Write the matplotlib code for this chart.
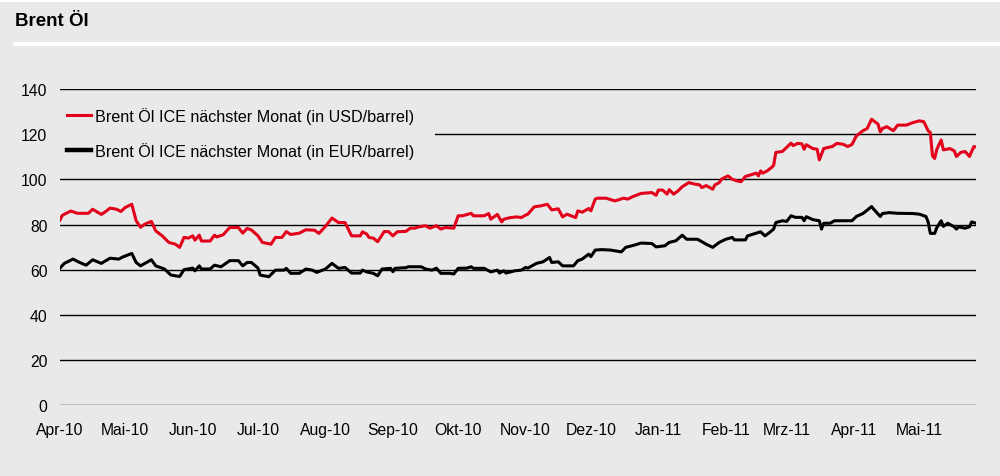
import numpy as np
import pandas as pd
import matplotlib.pyplot as plt
from matplotlib.patches import Rectangle
from matplotlib.lines import Line2D

plt.rcParams['font.family'] = ['Liberation Sans', 'DejaVu Sans']

start = pd.Timestamp('2010-04-01')

# Brent in USD/barrel: day offset from 1 Apr 2010, value
usd_days = [0, 1, 2, 5, 8, 13, 15, 19, 21, 23, 26, 28, 30, 33, 35, 37, 39, 42, 44, 47,
            50, 53, 55, 57, 59, 61, 62, 64, 65, 69, 71, 72, 75, 78, 82, 84, 86, 88, 91, 93,
            97, 99, 102, 104, 106, 110, 113, 117, 119, 122, 125, 128, 131, 134, 138, 139, 141, 142, 144, 146,
            149, 151, 153, 155, 159, 161, 163, 165, 168, 170, 173, 175, 177, 181, 183, 185, 189, 190, 195, 197,
            198, 201, 203, 204, 207, 210, 212, 214, 215, 218, 221, 224, 226, 229, 231, 233, 237, 238, 240, 243,
            244, 246, 247, 251, 255, 259, 261, 263, 267, 272, 274, 275, 277, 279, 280, 282, 284, 286, 289, 292,
            294, 295, 297, 300, 301, 303, 304, 307, 309, 311, 313, 315, 317, 320, 321, 322, 323, 325, 327, 328,
            329, 332, 336, 337, 339, 341, 342, 343, 346, 348, 349, 351, 353, 355, 357, 360, 362, 364, 366, 369,
            371, 373, 376, 377, 378, 380, 383, 385, 389, 392, 395, 397, 399, 400, 401, 402, 403, 405, 406, 409,
            411, 412, 414, 416, 418, 420, 421]
usd = [82, 84, 84.6, 86, 85, 85, 86.8, 84.5, 85.8, 87.3, 86.8, 85.8, 87.6, 89, 81.7, 78.8, 80.2, 81.4, 77.2, 75,
       72.1, 71.3, 69.9, 74.3, 74, 75, 73.1, 75.3, 72.7, 72.7, 75.3, 74.5, 75.5, 78.7, 78.7, 76.2, 78.3, 77.6, 75, 72.1,
       71.3, 74.3, 74.3, 76.9, 75.6, 76.2, 77.7, 77.5, 76.1, 79.2, 82.9, 80.9, 80.9, 75, 75, 76.8, 75.8, 74.3, 74, 72.4,
       76.9, 76.9, 75, 76.8, 77, 78.4, 78.4, 79, 79.5, 78.4, 79.5, 78, 78.7, 78.4, 83.9, 83.9, 85, 83.9, 83.9, 84.9,
       82.4, 84.5, 81.2, 82.4, 83.1, 83.4, 83.1, 84.2, 84.6, 87.9, 88.3, 89, 86.5, 87, 83.4, 84.6, 83.1, 86.1, 85.5, 87.1,
       86.1, 91.3, 91.7, 91.7, 90.5, 91.7, 91.3, 92.3, 93.8, 94.2, 93, 95.3, 95.3, 93.5, 95.5, 93.5, 94.9, 96.8, 98.6, 97.9,
       97.6, 96.4, 97.3, 95.7, 97.6, 98.6, 100.1, 101.6, 100.1, 99.4, 99, 101.3, 101.9, 102.8, 101.6, 103.8, 102.8, 103.8, 105.3, 106.3,
       112, 112.4, 116.1, 115, 116, 115.8, 113.4, 115.4, 113.7, 113.4, 108.7, 113.7, 114.2, 114.6, 116, 115.6, 114.6, 115.5, 119.3, 121.6,
       122.6, 126.7, 124.5, 121.1, 122.6, 123.4, 121.6, 124.1, 124.1, 125.2, 126, 125.6, 121.6, 120.8, 110.5, 109.3, 113.4, 117.5, 113.1, 113.7,
       112.7, 110.2, 112, 112.4, 110.2, 114.6, 114.4]

# Brent in EUR/barrel
eur_days = [0, 2, 6, 9, 12, 15, 19, 23, 27, 29, 33, 35, 37, 42, 44, 48, 51, 55, 57, 61,
            62, 64, 65, 69, 71, 74, 78, 82, 84, 86, 88, 91, 92, 96, 99, 103, 104, 106, 110, 113,
            116, 118, 122, 125, 128, 131, 134, 138, 139, 141, 144, 146, 148, 152, 153, 154, 159, 160, 166, 168,
            171, 173, 175, 179, 181, 183, 187, 189, 190, 195, 198, 201, 202, 204, 205, 209, 212, 214, 215, 219,
            222, 225, 226, 229, 231, 236, 238, 240, 243, 244, 246, 249, 253, 258, 260, 264, 267, 272, 274, 278,
            280, 283, 286, 288, 293, 297, 300, 303, 306, 309, 310, 315, 316, 320, 322, 324, 326, 328, 329, 332,
            334, 336, 338, 341, 342, 343, 346, 349, 350, 351, 354, 356, 359, 364, 366, 369, 371, 373, 374, 377,
            378, 381, 385, 392, 395, 398, 399, 400, 402, 403, 405, 406, 408, 411, 412, 413, 416, 418, 419, 421]
eur = [60.7, 62.8, 64.7, 63.2, 62, 64.4, 62.8, 65.1, 64.7, 65.7, 67.2, 63.2, 61.7, 64.4, 61.7, 60.3, 57.6, 57, 60, 60.7,
       59.5, 61.7, 60.3, 60.3, 62, 61.3, 64, 64, 61.7, 63.2, 63.2, 60.7, 57.6, 56.9, 59.8, 59.8, 60.6, 58.4, 58.4, 60.3,
       59.8, 58.8, 60.3, 62.8, 60.6, 61, 58.5, 58.5, 59.8, 59, 58.4, 57.3, 60.3, 60.6, 59.1, 60.6, 60.9, 61.3, 61.3, 60.3,
       59.8, 60.7, 58.4, 58.4, 58.1, 60.6, 60.7, 61.3, 60.6, 60.6, 59, 59.8, 58.5, 59.5, 58.5, 59.5, 59.8, 61, 60.7, 62.8,
       63.5, 65.4, 63.2, 63.5, 61.7, 61.7, 64, 64.7, 66.9, 65.8, 68.7, 68.9, 68.7, 67.9, 69.9, 70.9, 71.8, 71.6, 70.1, 70.6,
       72.1, 72.8, 75.3, 73.5, 73.5, 71.3, 69.9, 72.1, 73.5, 74.3, 73.2, 73.2, 75, 76.2, 76.8, 75, 76.4, 78, 80.9, 81.7,
       81.4, 83.9, 83.2, 83.2, 81.7, 83.5, 82.2, 81.7, 78, 80.6, 80.6, 81.7, 81.7, 81.7, 83.6, 84.9, 86.4, 88, 86.8, 83.6,
       84.9, 85.3, 85, 84.9, 84.6, 83.6, 81.2, 76.1, 76.1, 78.7, 81.7, 79.2, 80.6, 79, 78, 79, 78.4, 79, 81.2, 80.6]

month_ticks = pd.date_range('2010-04-01', '2011-05-01', freq='MS')
month_labels = ['Apr-10', 'Mai-10', 'Jun-10', 'Jul-10', 'Aug-10', 'Sep-10', 'Okt-10',
                'Nov-10', 'Dez-10', 'Jan-11', 'Feb-11', 'Mrz-11', 'Apr-11', 'Mai-11']

usd_dates = start + pd.to_timedelta(usd_days, unit='D')
eur_dates = start + pd.to_timedelta(eur_days, unit='D')

bg = '#e9e9e9'
red = '#e2001a'

fig = plt.figure(figsize=(10, 4.77), dpi=100, facecolor='white')
fig.patches.append(Rectangle((0, 0), 1, 1 - 3 / 477, transform=fig.transFigure,
                             facecolor=bg, edgecolor='none', zorder=-10))
# white rule under the title
fig.patches.append(Rectangle((13 / 1000, 1 - 47 / 477), 1 - 13 / 1000, 4 / 477,
                             transform=fig.transFigure, facecolor='white',
                             edgecolor='none', zorder=-5))
fig.text(15 / 1000, 1 - 22 / 477, 'Brent Öl', fontsize=13.5, fontweight='bold',
         va='center', ha='left')

ax = fig.add_axes([0.06, 0.1488, 0.916, 0.662])
ax.set_facecolor('none')
ax.plot(usd_dates, usd, color=red, lw=2.2, zorder=3)
ax.plot(eur_dates, eur, color='black', lw=2.2, zorder=3)

ax.set_ylim(0, 140)
ax.set_xlim(start, start + pd.Timedelta(days=421))
ax.set_yticks(np.arange(0, 141, 20))
ax.set_xticks(month_ticks)
ax.set_xticklabels(month_labels)
ax.grid(axis='y', color='black', lw=1.0)
ax.set_axisbelow(True)
for s in ax.spines.values():
    s.set_visible(False)
ax.tick_params(length=0, labelsize=11.3)
ax.tick_params(axis='y', pad=9)
ax.tick_params(axis='x', pad=12)

# grey box behind the legend, hiding the grid line
ax.add_patch(Rectangle((60 / 1000, 1 - 168 / 477), 375 / 1000, 66 / 477,
                       transform=fig.transFigure, facecolor=bg,
                       edgecolor='none', zorder=2))

handles = [Line2D([], [], color=red, lw=2.2),
           Line2D([], [], color='black', lw=3.2)]
leg = ax.legend(handles, ['Brent Öl ICE nächster Monat (in USD/barrel)',
                          'Brent Öl ICE nächster Monat (in EUR/barrel)'],
                loc='upper left', bbox_to_anchor=(6.5 / 916, 0.945), frameon=False,
                fontsize=11.6, handlelength=1.55, handletextpad=0.2,
                labelspacing=1.15, borderaxespad=0, borderpad=0)

fig.savefig('out.png', dpi=100, facecolor=fig.get_facecolor())
